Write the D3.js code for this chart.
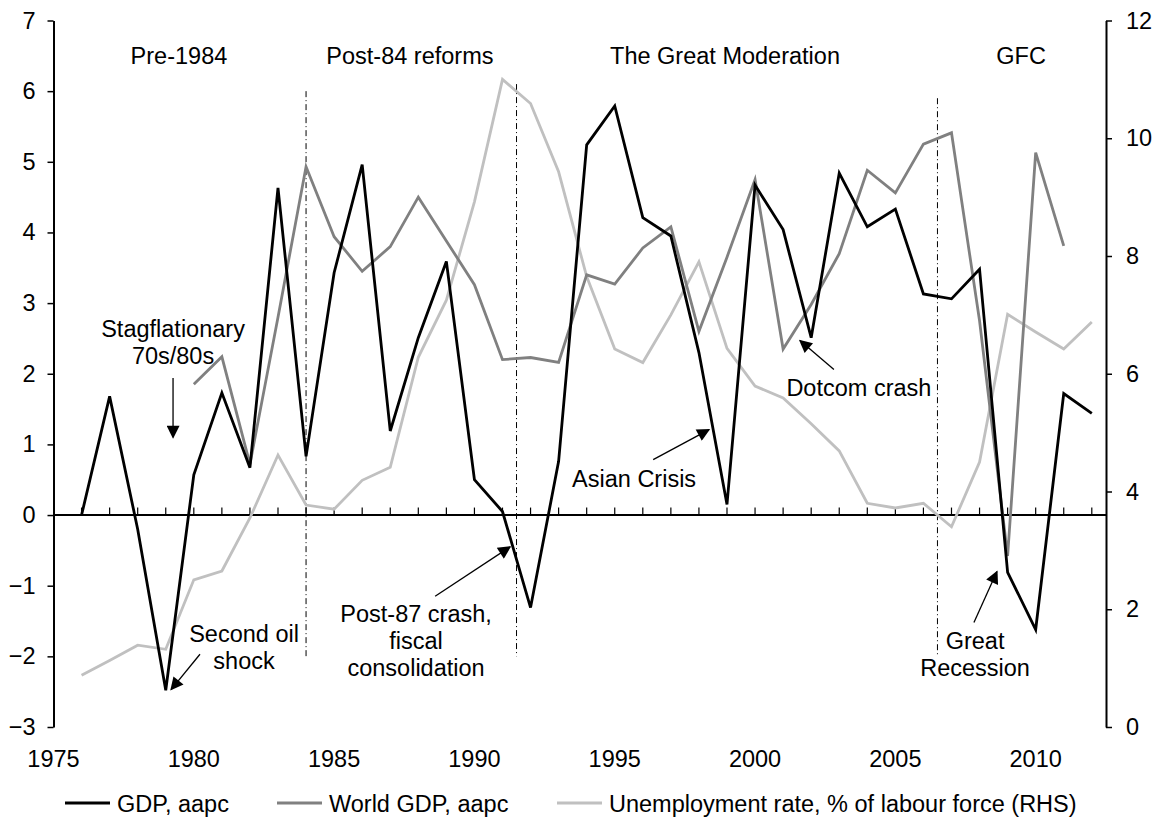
<!DOCTYPE html>
<html>
<head>
<meta charset="utf-8">
<title>GDP, world GDP and unemployment</title>
<script src="https://d3js.org/d3.v7.min.js"></script>
<style>
body { margin: 0; background: #fff; }
svg text { font-family: "Liberation Sans", Arial, sans-serif; font-size: 23.5px; fill: #000; }
</style>
</head>
<body>
<div id="chart"></div>
<script>
// ---- data ----
var gdpYears = d3.range(1976, 2013);
var gdp = [0.0, 1.68, -0.2, -2.48, 0.57, 1.73, 0.67, 4.63, 0.83, 3.43,
           4.96, 1.19, 2.51, 3.59, 0.50, 0.05, -1.31, 0.76, 5.24, 5.79,
           4.21, 3.95, 2.30, 0.15, 4.67, 4.04, 2.51, 4.84, 4.08, 4.33,
           3.13, 3.06, 3.48, -0.81, -1.62, 1.72, 1.44];

var worldYears = d3.range(1980, 2012);
var worldGdp = [1.85, 2.24, 0.72, 2.8, 4.93, 3.94, 3.45, 3.80, 4.50, 3.88,
                3.26, 2.20, 2.23, 2.16, 3.40, 3.27, 3.78, 4.08, 2.60, 3.65,
                4.75, 2.35, 2.98, 3.70, 4.88, 4.56, 5.25, 5.41, 2.75, -0.58,
                5.13, 3.81];

var unempYears = d3.range(1976, 2013);
var unemp = [0.88, 1.13, 1.39, 1.32, 2.50, 2.65, 3.55, 4.62, 3.77, 3.70,
             4.19, 4.41, 6.28, 7.25, 8.92, 11.0, 10.59, 9.43, 7.65, 6.42,
             6.19, 7.0, 7.90, 6.43, 5.79, 5.59, 5.15, 4.69, 3.80, 3.72,
             3.80, 3.40, 4.50, 7.01, 6.71, 6.42, 6.88];

var leftTicks = d3.range(-3, 8);
var rightTicks = [0, 2, 4, 6, 8, 10, 12];
var yearLabels = [1975, 1980, 1985, 1990, 1995, 2000, 2005, 2010];

var seriesNames = ["GDP, aapc", "World GDP, aapc", "Unemployment rate, % of labour force (RHS)"];
var seriesColors = ["#000000", "#808080", "#c0c0c0"];

// period dividers: year, top, bottom (LHS units)
var dividers = [[1984, 6.0, -2.0], [1991.5, 6.1, -2.0], [2006.5, 5.9, -2.0]];
var periods = [["Pre-1984", 1979.47], ["Post-84 reforms", 1987.7],
               ["The Great Moderation", 1998.93], ["GFC", 2009.48]];

// annotations: lines, text anchor [year, value], arrow from/to [year, value]
var notes = [
  {lines: ["Stagflationary", "70s/80s"], at: [1979.26, 2.52], from: [1979.26, 1.94], to: [1979.26, 1.10]},
  {lines: ["Second oil", "shock"], at: [1981.79, -1.80], from: [1980.22, -1.97], to: [1979.19, -2.47]},
  {lines: ["Post-87 crash,", "fiscal", "consolidation"], at: [1987.92, -1.52], from: [1988.6, -1.15], to: [1991.27, -0.45]},
  {lines: ["Asian Crisis"], at: [1995.69, 0.39], from: [1996.37, 0.785], to: [1998.36, 1.21]},
  {lines: ["Dotcom crash"], at: [2003.7, 1.68], from: [2002.81, 2.06], to: [2001.6, 2.47]},
  {lines: ["Great", "Recession"], at: [2007.84, -1.90], from: [2007.8, -1.52], to: [2008.62, -0.80]}
];

// ---- layout ----
var W = 1161, H = 820;
var plotLeft = 53.5, plotRight = 1106, plotTop = 20.5, plotBottom = 727;

var x = d3.scaleLinear().domain([1975, 2012]).range([plotLeft, 1091.8]);
var yL = d3.scaleLinear().domain([-3, 7]).range([plotBottom, plotTop]);
var yR = d3.scaleLinear().domain([0, 12]).range([plotBottom, plotTop]);

var svg = d3.select("#chart").append("svg")
  .attr("width", W).attr("height", H);

svg.append("defs").append("marker")
  .attr("id", "arrow")
  .attr("viewBox", "0 0 10 10")
  .attr("refX", 9).attr("refY", 5)
  .attr("markerWidth", 15).attr("markerHeight", 13)
  .attr("markerUnits", "userSpaceOnUse")
  .attr("orient", "auto")
  .append("path").attr("d", "M0,0 L10,5 L0,10 Z").attr("fill", "#000");

// left axis
var axL = svg.append("g").attr("transform", "translate(" + plotLeft + ",0)")
  .call(d3.axisLeft(yL).tickValues(leftTicks).tickSize(6).tickPadding(12).tickSizeOuter(0));
// right axis
var axR = svg.append("g").attr("transform", "translate(" + plotRight + ",0)")
  .call(d3.axisRight(yR).tickValues(rightTicks).tickSize(6).tickPadding(14).tickSizeOuter(0));
[axL, axR].forEach(function(a) {
  a.select(".domain").attr("stroke", "#000").attr("stroke-width", 2);
  a.selectAll(".tick line").attr("stroke", "#000").attr("stroke-width", 1.5);
  a.selectAll(".tick text").attr("font-size", 23.5).attr("font-family", "Liberation Sans, Arial, sans-serif");
});

// zero line with yearly tick marks
var xAxis = svg.append("g").attr("transform", "translate(0," + yL(0) + ")");
xAxis.append("line").attr("x1", plotLeft).attr("x2", plotRight)
  .attr("stroke", "#000").attr("stroke-width", 2);
xAxis.selectAll("line.yt").data(d3.range(1976, 2013)).enter().append("line")
  .attr("class", "yt")
  .attr("x1", function(d) { return x(d); }).attr("x2", function(d) { return x(d); })
  .attr("y1", 0).attr("y2", -7.5)
  .attr("stroke", "#000").attr("stroke-width", 1.2);

// year labels at the bottom
svg.selectAll("text.yl").data(yearLabels).enter().append("text")
  .attr("class", "yl")
  .attr("x", function(d) { return x(d); })
  .attr("y", 767)
  .attr("text-anchor", "middle")
  .text(function(d) { return d; });

// period dividers
svg.selectAll("line.div").data(dividers).enter().append("line")
  .attr("class", "div")
  .attr("x1", function(d) { return x(d[0]); }).attr("x2", function(d) { return x(d[0]); })
  .attr("y1", function(d) { return yL(d[1]); }).attr("y2", function(d) { return yL(d[2]); })
  .attr("stroke", "#000").attr("stroke-width", 1)
  .attr("stroke-dasharray", "6,3,1,3");

svg.selectAll("text.period").data(periods).enter().append("text")
  .attr("class", "period")
  .attr("x", function(d) { return x(d[1]); })
  .attr("y", 64)
  .attr("text-anchor", "middle")
  .text(function(d) { return d[0]; });

// series
var line = d3.line();
function draw(years, vals, scale, color) {
  svg.append("path")
    .datum(years.map(function(yr, i) { return [x(yr), scale(vals[i])]; }))
    .attr("d", line)
    .attr("fill", "none")
    .attr("stroke", color)
    .attr("stroke-width", 2.8)
    .attr("stroke-linejoin", "miter");
}
draw(unempYears, unemp, yR, seriesColors[2]);
draw(worldYears, worldGdp, yL, seriesColors[1]);
draw(gdpYears, gdp, yL, seriesColors[0]);

// annotations
notes.forEach(function(n) {
  var t = svg.append("text")
    .attr("x", x(n.at[0])).attr("y", yL(n.at[1]))
    .attr("text-anchor", "middle");
  n.lines.forEach(function(s, i) {
    t.append("tspan").attr("x", x(n.at[0])).attr("dy", i === 0 ? 0 : 27).text(s);
  });
  svg.append("line")
    .attr("x1", x(n.from[0])).attr("y1", yL(n.from[1]))
    .attr("x2", x(n.to[0])).attr("y2", yL(n.to[1]))
    .attr("stroke", "#000").attr("stroke-width", 1.3)
    .attr("marker-end", "url(#arrow)");
});

// legend
var legendX = [65, 277, 557];
var leg = svg.selectAll("g.leg").data(seriesNames).enter().append("g")
  .attr("class", "leg")
  .attr("transform", function(d, i) { return "translate(" + legendX[i] + ",803)"; });
leg.append("line").attr("x1", 0).attr("x2", 45).attr("y1", 0).attr("y2", 0)
  .attr("stroke", function(d, i) { return seriesColors[i]; })
  .attr("stroke-width", 2.8);
leg.append("text").attr("x", 52).attr("y", 8.5).text(function(d) { return d; });
</script>
</body>
</html>
